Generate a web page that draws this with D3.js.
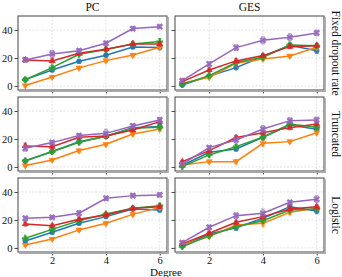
<!DOCTYPE html>
<html lang="en">
<head>
  <meta charset="UTF-8">
  <title>Degree panels</title>
  <script src="https://d3js.org/d3.v7.min.js"></script>
  <style>
    body { margin: 0; background: #fff; }
    text { font-family: "Liberation Serif", "DejaVu Serif", serif; fill: #111; }
  </style>
</head>
<body>
  <div id="chart"></div>
  <script>
    // x values and panel labels
    const degrees = [1, 2, 3, 4, 5, 6];
    const methods = ['PC', 'GES'];
    const noiseModels = ['Fixed dropout rate', 'Truncated', 'Logistic'];
    const xTicks = [2, 4, 6];
    const yTicks = [0, 20, 40];
    const colors = ['#1f77b4', '#ff7f0e', '#2ca02c', '#d62728', '#9467bd'];

    // series order: blue, orange, green, red, purple
    const pcFixed = [
      [4.5, 11.4, 17.6, 21.9, 27.9, 27.4],
      [0.3, 6.4, 12.9, 18.1, 22.1, 27.6],
      [4.4, 13.1, 22.6, 26.0, 30.0, 31.7],
      [18.6, 17.9, 23.3, 26.2, 30.0, 30.0],
      [18.6, 22.9, 25.2, 30.5, 41.0, 42.4]
    ];
    const gesFixed = [
      [0.7, 7.0, 13.1, 21.0, 29.0, 25.2],
      [1.9, 6.2, 16.2, 19.3, 21.4, 27.6],
      [1.0, 7.4, 16.7, 20.5, 29.3, 28.8],
      [3.1, 11.4, 17.9, 21.7, 28.1, 28.8],
      [3.8, 15.7, 27.4, 32.6, 34.8, 37.9]
    ];
    const pcTruncated = [
      [4.2, 11.0, 18.0, 22.0, 28.0, 29.0],
      [1.0, 5.0, 11.7, 16.2, 23.6, 27.1],
      [4.5, 10.9, 17.6, 22.0, 27.6, 28.3],
      [15.0, 14.5, 21.2, 22.1, 26.4, 32.4],
      [13.3, 17.4, 22.4, 24.0, 29.3, 33.6]
    ];
    const gesTruncated = [
      [1.0, 10.5, 12.9, 21.2, 30.0, 26.9],
      [1.4, 3.8, 3.8, 16.9, 18.1, 24.5],
      [0.2, 8.6, 14.5, 21.2, 30.7, 28.3],
      [3.8, 11.7, 21.0, 24.5, 28.1, 30.7],
      [2.1, 13.8, 19.3, 27.1, 33.1, 33.6]
    ];
    const pcLogistic = [
      [5.0, 11.2, 17.6, 22.4, 27.9, 27.1],
      [2.1, 6.4, 12.9, 17.6, 24.0, 29.0],
      [6.9, 13.3, 19.5, 24.3, 28.3, 30.2],
      [17.1, 15.9, 20.5, 23.6, 28.3, 29.5],
      [21.2, 21.9, 24.8, 35.5, 37.4, 37.9]
    ];
    const gesLogistic = [
      [1.4, 10.0, 14.5, 21.2, 29.5, 26.4],
      [2.1, 8.1, 16.4, 17.6, 25.5, 28.3],
      [0.9, 8.8, 15.2, 19.5, 27.1, 27.9],
      [2.9, 10.5, 18.3, 22.4, 27.9, 29.5],
      [3.8, 14.8, 23.1, 24.8, 32.6, 34.8]
    ];

    // error bar half-widths, same series order
    const pcFixedErr = [
      [1.0, 1.2, 1.2, 1.2, 1.2, 1.5],
      [1.0, 1.0, 1.2, 1.2, 1.2, 1.5],
      [1.0, 1.5, 1.2, 1.5, 1.5, 2.0],
      [1.5, 1.5, 1.2, 1.5, 1.5, 1.5],
      [1.5, 2.5, 1.5, 1.5, 1.5, 1.2]
    ];
    const gesFixedErr = [
      [1.0, 1.2, 1.5, 1.5, 1.5, 2.0],
      [1.0, 1.2, 1.5, 1.5, 1.2, 1.5],
      [1.0, 1.2, 1.5, 1.5, 1.5, 1.5],
      [1.0, 1.5, 1.5, 1.5, 1.5, 1.5],
      [1.0, 1.5, 2.0, 2.5, 2.5, 2.0]
    ];
    const pcTruncatedErr = [
      [1.0, 1.2, 1.2, 1.2, 1.2, 1.5],
      [1.0, 1.0, 1.2, 1.2, 1.5, 1.5],
      [1.0, 1.2, 1.2, 1.2, 1.2, 1.5],
      [2.0, 1.5, 1.5, 1.5, 1.5, 1.5],
      [2.0, 1.5, 1.5, 3.0, 1.5, 1.8]
    ];
    const gesTruncatedErr = [
      [1.0, 1.5, 1.5, 1.5, 1.5, 1.5],
      [1.0, 1.2, 1.5, 2.0, 1.2, 1.5],
      [1.0, 1.2, 1.5, 1.5, 1.5, 1.5],
      [1.0, 1.5, 1.5, 1.5, 1.5, 1.5],
      [1.0, 1.5, 2.0, 2.5, 2.0, 2.0]
    ];
    const pcLogisticErr = [
      [1.0, 1.2, 1.2, 1.2, 1.2, 1.5],
      [1.0, 1.0, 1.2, 1.2, 1.2, 1.5],
      [1.0, 1.2, 1.2, 1.2, 1.2, 1.5],
      [1.5, 1.2, 1.5, 1.5, 1.5, 1.2],
      [1.5, 1.2, 2.0, 1.5, 1.5, 1.5]
    ];
    const gesLogisticErr = [
      [1.0, 1.2, 2.0, 1.5, 1.5, 2.0],
      [1.0, 1.2, 1.5, 2.0, 1.5, 1.5],
      [1.0, 1.2, 1.5, 1.5, 1.5, 1.5],
      [1.0, 1.5, 1.5, 1.5, 1.5, 1.5],
      [1.0, 1.5, 2.0, 3.0, 1.5, 2.5]
    ];

    const panels = [
      [pcFixed, gesFixed], [pcTruncated, gesTruncated], [pcLogistic, gesLogistic]
    ];
    const panelErrs = [
      [pcFixedErr, gesFixedErr], [pcTruncatedErr, gesTruncatedErr], [pcLogisticErr, gesLogisticErr]
    ];

    const width = 342, height = 277;
    const colLeft = [18, 175], colWidth = 149;
    const rowTop = [16, 97, 178], rowHeight = 74;

    // filled X marker (cross rotated 45deg)
    const xMark = {
      draw(ctx, size) {
        const r = Math.sqrt(size / 5) / 2;
        const pts = [[-3, -1], [-1, -1], [-1, -3], [1, -3], [1, -1], [3, -1],
                     [3, 1], [1, 1], [1, 3], [-1, 3], [-1, 1], [-3, 1]];
        const c = Math.SQRT1_2;
        pts.forEach(([a, b], i) => {
          const x = (a - b) * c * r, y = (a + b) * c * r;
          i ? ctx.lineTo(x, y) : ctx.moveTo(x, y);
        });
        ctx.closePath();
      }
    };
    const triDown = {
      draw(ctx, size) {
        const s = Math.sqrt(size * 4 / Math.sqrt(3));
        const h = s * Math.sqrt(3) / 2;
        ctx.moveTo(0, h * 2 / 3);
        ctx.lineTo(s / 2, -h / 3);
        ctx.lineTo(-s / 2, -h / 3);
        ctx.closePath();
      }
    };
    const markers = [d3.symbolCircle, triDown, d3.symbolCross, d3.symbolTriangle, xMark];
    const markerSize = [24, 22, 26, 22, 28];

    const svg = d3.select('#chart').append('svg')
      .attr('width', width)
      .attr('height', height);

    panels.forEach((row, ri) => {
      row.forEach((seriesSet, ci) => {
        const x = d3.scaleLinear()
          .domain([0.73, 6.27])
          .range([colLeft[ci], colLeft[ci] + colWidth]);
        const y = d3.scaleLinear()
          .domain([-2.9, 50])
          .range([rowTop[ri] + rowHeight, rowTop[ri]]);
        const errs = panelErrs[ri][ci];
        const g = svg.append('g');

        // grid
        g.selectAll('.gx').data(xTicks).join('line')
          .attr('x1', d => x(d)).attr('x2', d => x(d))
          .attr('y1', rowTop[ri]).attr('y2', rowTop[ri] + rowHeight)
          .attr('stroke', '#dcdcdc').attr('stroke-width', 0.8)
          .attr('stroke-dasharray', '2,1.5');
        g.selectAll('.gy').data(yTicks).join('line')
          .attr('x1', colLeft[ci]).attr('x2', colLeft[ci] + colWidth)
          .attr('y1', d => y(d)).attr('y2', d => y(d))
          .attr('stroke', '#dcdcdc').attr('stroke-width', 0.8)
          .attr('stroke-dasharray', '2,1.5');

        // axes
        const xAxis = g.append('g')
          .attr('transform', `translate(0,${rowTop[ri] + rowHeight})`)
          .call(d3.axisBottom(x).tickValues(xTicks).tickSize(3.5).tickPadding(1.5)
            .tickFormat(ri === 2 ? d3.format('d') : ''));
        const yAxis = g.append('g')
          .attr('transform', `translate(${colLeft[ci]},0)`)
          .call(d3.axisLeft(y).tickValues(yTicks).tickSize(3.5).tickPadding(2)
            .tickFormat(ci === 0 ? d3.format('d') : ''));
        [xAxis, yAxis].forEach(a => {
          a.select('.domain').remove();
          a.selectAll('line').attr('stroke', '#333').attr('stroke-width', 0.9);
          a.selectAll('text').attr('font-size', 10.5)
            .attr('font-family', '"Liberation Serif", serif').attr('fill', '#111');
        });

        // series
        const line = d3.line().x((d, i) => x(degrees[i])).y(d => y(d));
        seriesSet.forEach((vals, si) => {
          const sg = g.append('g');
          const col = colors[si];
          sg.append('path').datum(vals)
            .attr('d', line)
            .attr('fill', 'none')
            .attr('stroke', col)
            .attr('stroke-width', 1.5);
          sg.selectAll('.eb').data(vals).join('path')
            .attr('d', (d, i) => {
              const cx = x(degrees[i]), e = errs[si][i];
              const y0 = y(d - e), y1 = y(d + e);
              return `M${cx},${y0}V${y1}M${cx - 1.8},${y0}H${cx + 1.8}M${cx - 1.8},${y1}H${cx + 1.8}`;
            })
            .attr('fill', 'none')
            .attr('stroke', col)
            .attr('stroke-opacity', 0.8)
            .attr('stroke-width', 0.9);
          sg.selectAll('.mk').data(vals).join('path')
            .attr('transform', (d, i) => `translate(${x(degrees[i])},${y(d)})`)
            .attr('d', d3.symbol().type(markers[si]).size(markerSize[si]))
            .attr('fill', col)
            .attr('fill-opacity', 0.9);
        });

        // spines
        g.append('rect')
          .attr('x', colLeft[ci]).attr('y', rowTop[ri])
          .attr('width', colWidth).attr('height', rowHeight)
          .attr('fill', 'none')
          .attr('stroke', '#444')
          .attr('stroke-width', 1);
        g.append('path')
          .attr('d', `M${colLeft[ci] + colWidth + 1.2},${rowTop[ri] + 1}V${rowTop[ri] + rowHeight + 1.2}H${colLeft[ci] + 1}`)
          .attr('fill', 'none')
          .attr('stroke', '#aaa')
          .attr('stroke-width', 1.4);
      });

      // row label on the right
      const cy = rowTop[ri] + rowHeight / 2;
      svg.append('text')
        .attr('transform', `translate(332,${cy}) rotate(90)`)
        .attr('text-anchor', 'middle')
        .attr('font-size', 11.5)
        .text(noiseModels[ri]);
    });

    // column titles
    methods.forEach((m, ci) => {
      svg.append('text')
        .attr('x', colLeft[ci] + colWidth / 2)
        .attr('y', 11)
        .attr('text-anchor', 'middle')
        .attr('font-size', 11.5)
        .text(m);
    });

    // x label
    svg.append('text')
      .attr('x', 166)
      .attr('y', 275.5)
      .attr('text-anchor', 'middle')
      .attr('font-size', 11)
      .text('Degree');
  </script>
</body>
</html>
